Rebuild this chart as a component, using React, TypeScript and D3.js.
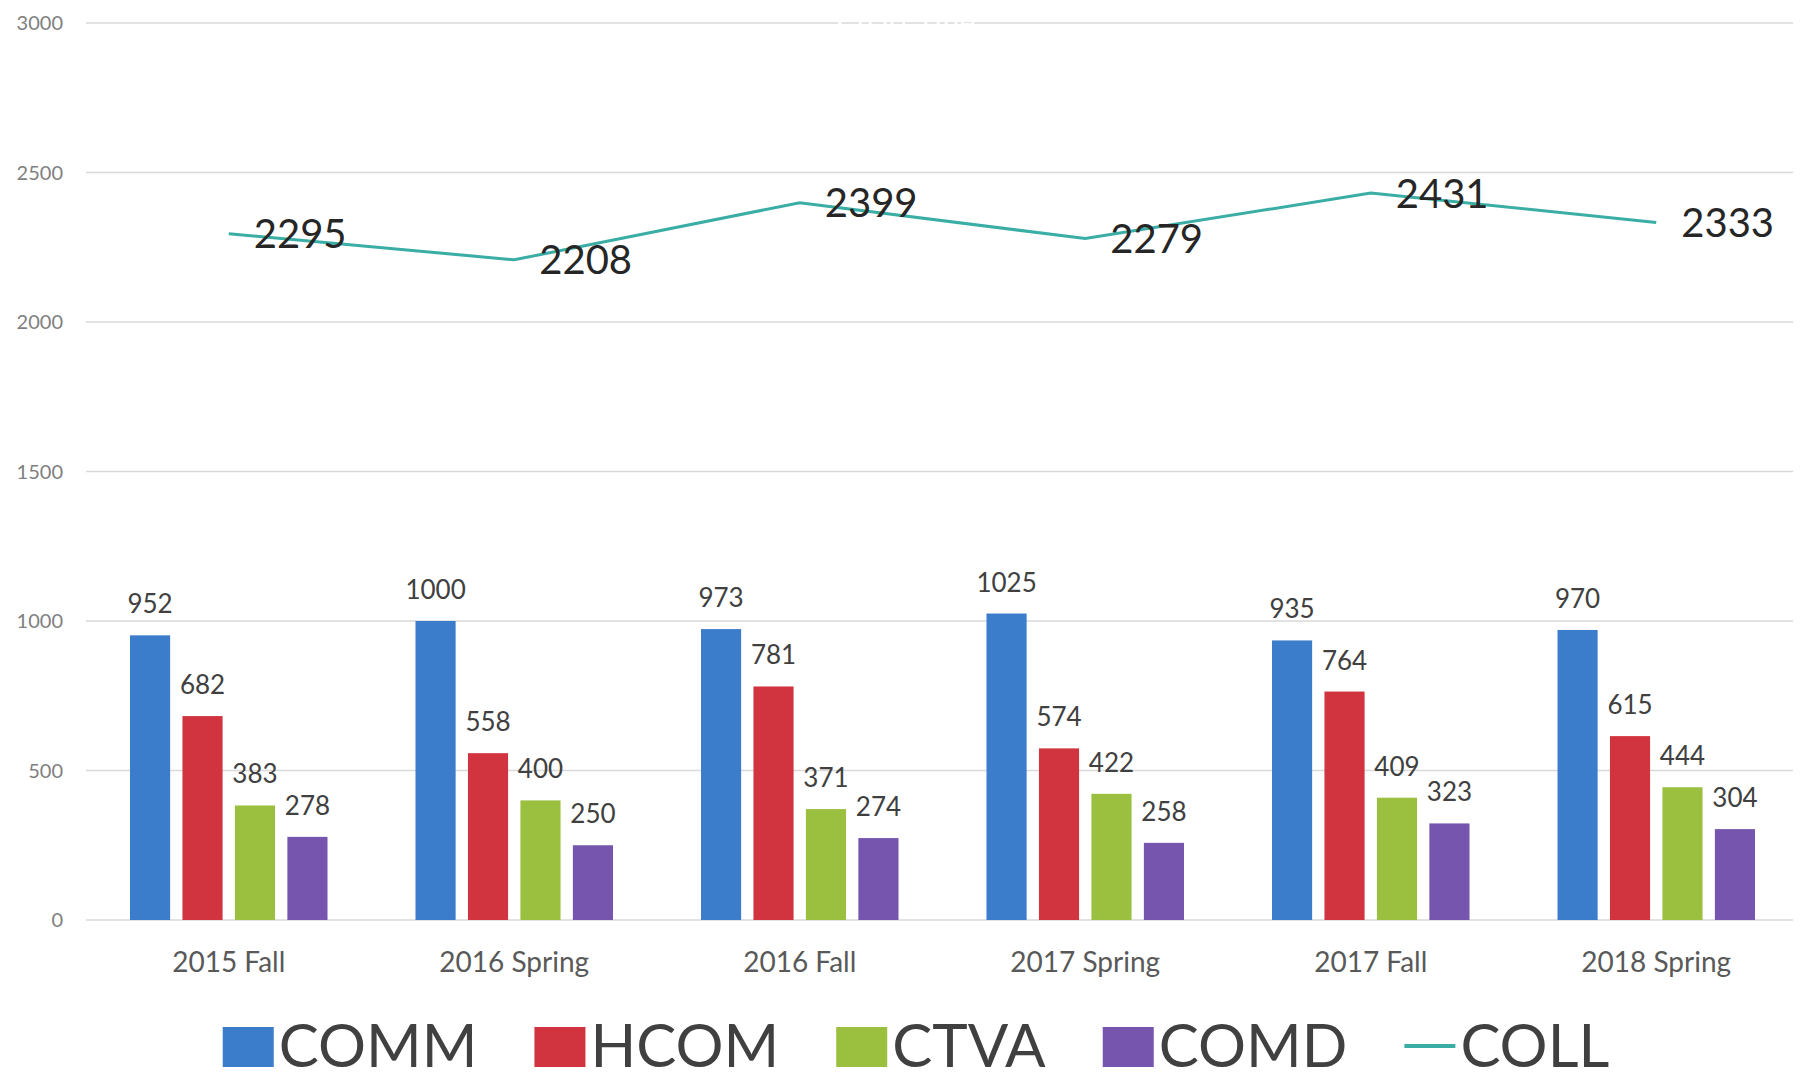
import React, { useEffect, useRef } from "react";
import * as d3 from "d3";

const categories = ["2015 Fall", "2016 Spring", "2016 Fall", "2017 Spring", "2017 Fall", "2018 Spring"];
const barSeries = ["COMM", "HCOM", "CTVA", "COMD"];
const comm = [952, 1000, 973, 1025, 935, 970];
const hcom = [682, 558, 781, 574, 764, 615];
const ctva = [383, 400, 371, 422, 409, 444];
const comd = [278, 250, 274, 258, 323, 304];
const coll = [2295, 2208, 2399, 2279, 2431, 2333];
const lineSeries = "COLL";
const yTicks = [0, 500, 1000, 1500, 2000, 2500, 3000];

const seriesColors: Record<string, string> = {
  COMM: "#3B7DCB",
  HCOM: "#D2343F",
  CTVA: "#9BBF3E",
  COMD: "#7655AE",
  COLL: "#3AADA5",
};

const W = 1808;
const H = 1081;
const FONT = "Lato, 'Open Sans', sans-serif";

export default function App() {
  const legendRef = useRef<SVGGElement | null>(null);

  const seriesValues: Record<string, number[]> = { COMM: comm, HCOM: hcom, CTVA: ctva, COMD: comd };

  const x0 = d3.scaleBand<string>().domain(categories).range([86, 1799]).paddingInner(0).paddingOuter(0);
  const groupPad = 44;
  const x1 = d3
    .scaleBand<string>()
    .domain(barSeries)
    .range([groupPad, x0.bandwidth() - groupPad])
    .paddingInner(0.235)
    .paddingOuter(0);
  const y = d3.scaleLinear().domain([0, 3000]).range([920, 23]);

  const lineGen = d3
    .line<number>()
    .x((_, i) => (x0(categories[i]) as number) + x0.bandwidth() / 2)
    .y((d) => y(d));

  useEffect(() => {
    const g = d3.select(legendRef.current);
    g.selectAll("*").remove();
    const items = [...barSeries, lineSeries];
    const markerW = 51;
    const markerH = 40;
    const textGap = 5;
    const itemGap = 57;
    const baseline = 1067;
    let cursor = 0;
    items.forEach((name) => {
      const item = g.append("g").attr("transform", `translate(${cursor},0)`);
      if (name === lineSeries) {
        item
          .append("line")
          .attr("x1", 0)
          .attr("x2", markerW)
          .attr("y1", baseline - 21)
          .attr("y2", baseline - 21)
          .attr("stroke", seriesColors[name])
          .attr("stroke-width", 4);
      } else {
        item
          .append("rect")
          .attr("x", 0)
          .attr("y", baseline - 40)
          .attr("width", markerW)
          .attr("height", markerH)
          .attr("fill", seriesColors[name]);
      }
      const t = item
        .append("text")
        .attr("x", markerW + textGap)
        .attr("y", baseline)
        .attr("font-family", FONT)
        .attr("font-size", 60)
        .attr("fill", "#404040")
        .text(name);
      const len = (t.node() as SVGTextElement).getComputedTextLength();
      cursor += markerW + textGap + len + itemGap;
    });
    const total = cursor - itemGap;
    const startX = 916 - total / 2;
    g.attr("transform", `translate(${startX},0)`);
  }, []);

  return (
    <svg
      width={W}
      height={H}
      style={{ position: "absolute", left: 0, top: 0, background: "#ffffff" }}
      fontFamily={FONT}
    >
      <rect x={0} y={0} width={W} height={H} fill="#ffffff" />
      {/* gridlines */}
      {yTicks.map((t) => (
        <line key={`g${t}`} x1={86} x2={1793} y1={y(t)} y2={y(t)} stroke="#D9D9D9" strokeWidth={1.5} />
      ))}
      {/* faint white title overlapping top gridline */}
      <text x={906} y={33} textAnchor="middle" fontSize={30} fill="#ffffff">
        Chart Title
      </text>
      {/* y tick labels */}
      {yTicks.map((t) => (
        <text key={`yt${t}`} x={63} y={y(t)} dy="0.35em" textAnchor="end" fontSize={20} fill="#7F7F7F">
          {t}
        </text>
      ))}
      {/* bars */}
      {categories.map((c, ci) => (
        <g key={c} transform={`translate(${x0(c)},0)`}>
          {barSeries.map((s) => {
            const v = seriesValues[s][ci];
            const bx = x1(s) as number;
            return (
              <g key={s}>
                <rect x={bx} y={y(v)} width={x1.bandwidth()} height={y(0) - y(v)} fill={seriesColors[s]} />
                <text
                  x={bx + x1.bandwidth() / 2}
                  y={y(v) - 22}
                  textAnchor="middle"
                  fontSize={26}
                  fill="#404040"
                >
                  {v}
                </text>
              </g>
            );
          })}
          <text x={x0.bandwidth() / 2} y={972} textAnchor="middle" fontSize={28} fill="#595959">
            {c}
          </text>
        </g>
      ))}
      {/* line */}
      <path d={lineGen(coll) || ""} fill="none" stroke={seriesColors.COLL} strokeWidth={3} />
      {coll.map((v, i) => (
        <text
          key={`ll${i}`}
          x={(x0(categories[i]) as number) + x0.bandwidth() / 2 + 25}
          y={y(v)}
          dy="0.36em"
          fontSize={40}
          fill="#262626"
        >
          {v}
        </text>
      ))}
      <g ref={legendRef} />
    </svg>
  );
}
